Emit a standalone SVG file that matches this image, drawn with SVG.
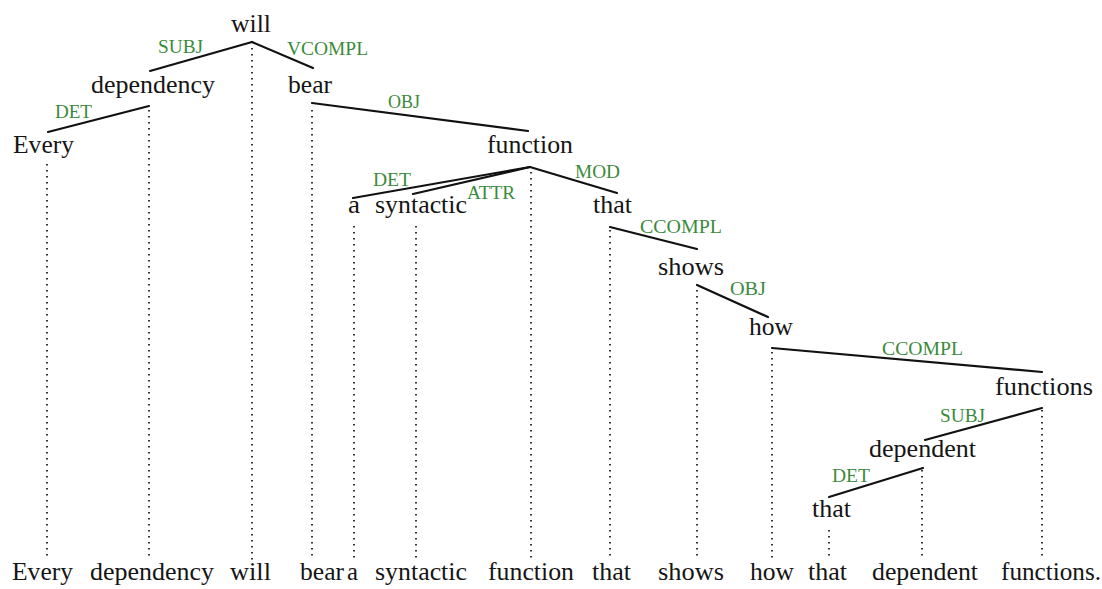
<svg xmlns="http://www.w3.org/2000/svg" width="1102" height="589" viewBox="0 0 1102 589">
  <style>
    .word { font-family: "Liberation Serif", "Times New Roman", Times, serif; font-size: 25.5px; fill: #151515; }
    .rel { font-family: "Liberation Serif", "Times New Roman", Times, serif; font-size: 18px; fill: #3b8a3b; }
    .edge { stroke: #111; stroke-width: 2.2; stroke-linecap: round; fill: none; }
    .proj { stroke: #333; stroke-width: 2; stroke-dasharray: 1.6 4.4; fill: none; }
  </style>
  <rect width="1102" height="589" fill="#fff"/>

  <!-- tree nodes: word plus dotted projection down to the sentence -->
  <g id="node-will">
    <text class="word" x="231" y="32" textLength="40" lengthAdjust="spacingAndGlyphs">will</text>
    <line class="proj" x1="252" y1="48" x2="252" y2="560"/>
  </g>
  <g id="node-dependency">
    <text class="word" x="91" y="93" textLength="124" lengthAdjust="spacingAndGlyphs">dependency</text>
    <line class="proj" x1="149" y1="110" x2="149" y2="560"/>
  </g>
  <g id="node-bear">
    <text class="word" x="288" y="93" textLength="44" lengthAdjust="spacingAndGlyphs">bear</text>
    <line class="proj" x1="312" y1="110" x2="312" y2="560"/>
  </g>
  <g id="node-every">
    <text class="word" x="13" y="153" textLength="61" lengthAdjust="spacingAndGlyphs">Every</text>
    <line class="proj" x1="47" y1="164" x2="47" y2="560"/>
  </g>
  <g id="node-function">
    <text class="word" x="487" y="153" textLength="86" lengthAdjust="spacingAndGlyphs">function</text>
    <line class="proj" x1="531" y1="172" x2="531" y2="560"/>
  </g>
  <g id="node-a">
    <text class="word" x="348" y="213" textLength="12" lengthAdjust="spacingAndGlyphs">a</text>
    <line class="proj" x1="354" y1="226" x2="354" y2="560"/>
  </g>
  <g id="node-syntactic">
    <text class="word" x="375" y="213" textLength="92" lengthAdjust="spacingAndGlyphs">syntactic</text>
    <line class="proj" x1="416" y1="226" x2="416" y2="560"/>
  </g>
  <g id="node-that1">
    <text class="word" x="593" y="213" textLength="39" lengthAdjust="spacingAndGlyphs">that</text>
    <line class="proj" x1="610" y1="230" x2="610" y2="560"/>
  </g>
  <g id="node-shows">
    <text class="word" x="658" y="275" textLength="66" lengthAdjust="spacingAndGlyphs">shows</text>
    <line class="proj" x1="697" y1="290" x2="697" y2="560"/>
  </g>
  <g id="node-how">
    <text class="word" x="749" y="335" textLength="44" lengthAdjust="spacingAndGlyphs">how</text>
    <line class="proj" x1="772" y1="352" x2="772" y2="560"/>
  </g>
  <g id="node-functions">
    <text class="word" x="995" y="395" textLength="98" lengthAdjust="spacingAndGlyphs">functions</text>
    <line class="proj" x1="1042" y1="410" x2="1042" y2="560"/>
  </g>
  <g id="node-dependent">
    <text class="word" x="869" y="457" textLength="107" lengthAdjust="spacingAndGlyphs">dependent</text>
    <line class="proj" x1="922" y1="470" x2="922" y2="560"/>
  </g>
  <g id="node-that2">
    <text class="word" x="812" y="517" textLength="39" lengthAdjust="spacingAndGlyphs">that</text>
    <line class="proj" x1="829" y1="530" x2="829" y2="560"/>
  </g>

  <!-- dependency arcs with relation labels -->
  <g id="connectors">
    <line class="edge" x1="252" y1="42" x2="150" y2="71"/>
    <text class="rel" x="158" y="53" textLength="45" lengthAdjust="spacingAndGlyphs">SUBJ</text>
    <line class="edge" x1="252" y1="42" x2="313" y2="68"/>
    <text class="rel" x="287" y="55" textLength="81" lengthAdjust="spacingAndGlyphs">VCOMPL</text>
    <line class="edge" x1="149" y1="106" x2="48" y2="132"/>
    <text class="rel" x="55" y="118" textLength="37" lengthAdjust="spacingAndGlyphs">DET</text>
    <line class="edge" x1="312" y1="103" x2="528" y2="131"/>
    <text class="rel" x="388" y="108" textLength="32" lengthAdjust="spacingAndGlyphs">OBJ</text>
    <line class="edge" x1="530" y1="167" x2="353" y2="198"/>
    <text class="rel" x="373" y="186" textLength="38" lengthAdjust="spacingAndGlyphs">DET</text>
    <line class="edge" x1="530" y1="167" x2="413" y2="194"/>
    <text class="rel" x="467" y="199" textLength="48" lengthAdjust="spacingAndGlyphs">ATTR</text>
    <line class="edge" x1="530" y1="167" x2="617" y2="193"/>
    <text class="rel" x="575" y="178" textLength="45" lengthAdjust="spacingAndGlyphs">MOD</text>
    <line class="edge" x1="610" y1="227" x2="697" y2="249"/>
    <text class="rel" x="640" y="233" textLength="82" lengthAdjust="spacingAndGlyphs">CCOMPL</text>
    <line class="edge" x1="697" y1="285" x2="768" y2="317"/>
    <text class="rel" x="730" y="295" textLength="36" lengthAdjust="spacingAndGlyphs">OBJ</text>
    <line class="edge" x1="772" y1="348" x2="1042" y2="372"/>
    <text class="rel" x="882" y="355" textLength="81" lengthAdjust="spacingAndGlyphs">CCOMPL</text>
    <line class="edge" x1="1042" y1="408" x2="925" y2="440"/>
    <text class="rel" x="940" y="422" textLength="45" lengthAdjust="spacingAndGlyphs">SUBJ</text>
    <line class="edge" x1="923" y1="468" x2="829" y2="497"/>
    <text class="rel" x="832" y="482" textLength="38" lengthAdjust="spacingAndGlyphs">DET</text>
  </g>

  <!-- the sentence in linear order -->
  <g id="sentence">
    <text class="word" x="12" y="580" textLength="61" lengthAdjust="spacingAndGlyphs">Every</text>
    <text class="word" x="90" y="580" textLength="124" lengthAdjust="spacingAndGlyphs">dependency</text>
    <text class="word" x="230" y="580" textLength="41" lengthAdjust="spacingAndGlyphs">will</text>
    <text class="word" x="300" y="580" textLength="44" lengthAdjust="spacingAndGlyphs">bear</text>
    <text class="word" x="347" y="580" textLength="11" lengthAdjust="spacingAndGlyphs">a</text>
    <text class="word" x="375" y="580" textLength="92" lengthAdjust="spacingAndGlyphs">syntactic</text>
    <text class="word" x="488" y="580" textLength="86" lengthAdjust="spacingAndGlyphs">function</text>
    <text class="word" x="592" y="580" textLength="39" lengthAdjust="spacingAndGlyphs">that</text>
    <text class="word" x="658" y="580" textLength="66" lengthAdjust="spacingAndGlyphs">shows</text>
    <text class="word" x="750" y="580" textLength="44" lengthAdjust="spacingAndGlyphs">how</text>
    <text class="word" x="808" y="580" textLength="39" lengthAdjust="spacingAndGlyphs">that</text>
    <text class="word" x="872" y="580" textLength="106" lengthAdjust="spacingAndGlyphs">dependent</text>
    <text class="word" x="1001" y="580" textLength="100" lengthAdjust="spacingAndGlyphs">functions.</text>
  </g>
</svg>
